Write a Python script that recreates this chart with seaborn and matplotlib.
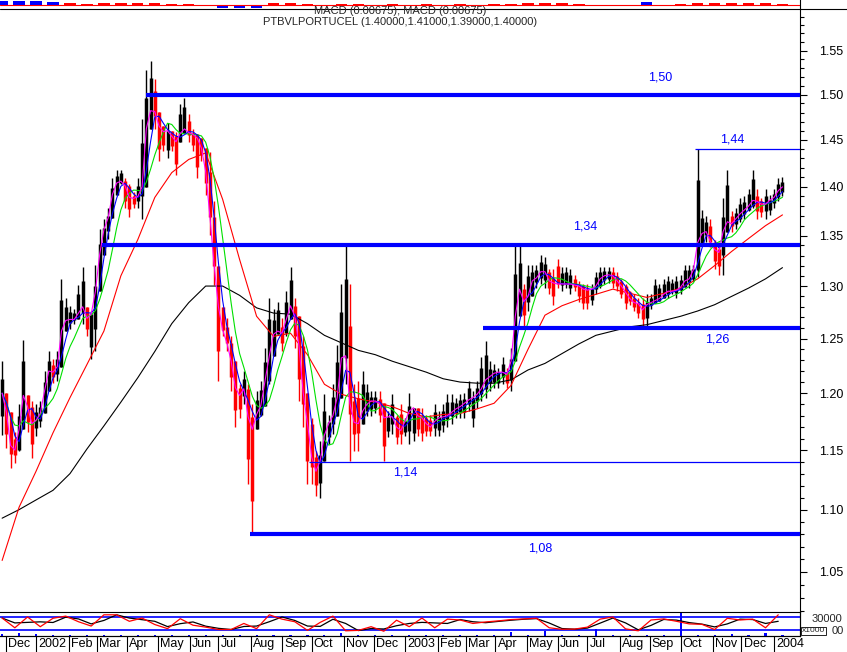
import numpy as np
import pandas as pd
import matplotlib
matplotlib.use("Agg")
import matplotlib.pyplot as plt
import matplotlib.ticker as mticker
import matplotlib.transforms as mtrans
from matplotlib.lines import Line2D
import seaborn as sns

# ---------------------------------------------------------------- data
# one bar every 3 trading days, starting 2001-11-28
close = [
    1.200, 1.183, 1.154, 1.150, 1.168, 1.198, 1.188, 1.173, 1.176, 1.182,
    1.202, 1.220, 1.219, 1.224, 1.257, 1.267, 1.268, 1.268, 1.274, 1.280,
    1.269, 1.273, 1.295, 1.331, 1.356, 1.368, 1.392, 1.404, 1.406, 1.401,
    1.389, 1.388, 1.390, 1.400, 1.462, 1.482, 1.481, 1.465, 1.459, 1.460,
    1.454, 1.448, 1.457, 1.462, 1.458, 1.456, 1.452, 1.441, 1.416, 1.369,
    1.320, 1.280, 1.258, 1.246, 1.229, 1.205, 1.198, 1.204, 1.179, 1.168,
    1.181, 1.189, 1.211, 1.234, 1.254, 1.257, 1.255, 1.268, 1.281, 1.271,
    1.243, 1.200, 1.173, 1.144, 1.132, 1.141, 1.163, 1.173, 1.180, 1.196,
    1.232, 1.234, 1.191, 1.174, 1.173, 1.184, 1.190, 1.193, 1.193, 1.191,
    1.178, 1.179, 1.179, 1.170, 1.167, 1.175, 1.184, 1.187, 1.180, 1.178,
    1.173, 1.170, 1.175, 1.178, 1.179, 1.180, 1.183, 1.186, 1.188, 1.191,
    1.194, 1.196, 1.199, 1.204, 1.212, 1.215, 1.218, 1.219, 1.219, 1.217,
    1.229, 1.271, 1.297, 1.285, 1.290, 1.305, 1.308, 1.314, 1.314, 1.305,
    1.303, 1.302, 1.302, 1.302, 1.302, 1.301, 1.300, 1.297, 1.296, 1.297,
    1.300, 1.307, 1.310, 1.311, 1.310, 1.305, 1.300, 1.294, 1.288, 1.284,
    1.283, 1.277, 1.282, 1.284, 1.286, 1.288, 1.292, 1.295, 1.295, 1.296,
    1.299, 1.305, 1.307, 1.316, 1.343, 1.352, 1.354, 1.344, 1.336, 1.333,
    1.354, 1.364, 1.362, 1.367, 1.372, 1.376, 1.380, 1.386, 1.385, 1.382,
    1.382, 1.386, 1.389, 1.396, 1.400,
]
high = [
    1.229, 1.195, 1.172, 1.166, 1.190, 1.249, 1.196, 1.193, 1.190, 1.193,
    1.220, 1.238, 1.231, 1.238, 1.307, 1.288, 1.281, 1.278, 1.301, 1.319,
    1.276, 1.276, 1.321, 1.357, 1.367, 1.378, 1.409, 1.418, 1.418, 1.409,
    1.403, 1.395, 1.409, 1.473, 1.528, 1.538, 1.518, 1.474, 1.462, 1.468,
    1.456, 1.459, 1.489, 1.496, 1.478, 1.462, 1.456, 1.448, 1.437, 1.437,
    1.385, 1.320, 1.278, 1.269, 1.252, 1.220, 1.208, 1.220, 1.208, 1.190,
    1.202, 1.211, 1.241, 1.288, 1.278, 1.285, 1.269, 1.295, 1.319, 1.288,
    1.269, 1.252, 1.193, 1.178, 1.149, 1.158, 1.199, 1.181, 1.208, 1.244,
    1.302, 1.340, 1.302, 1.208, 1.211, 1.220, 1.208, 1.202, 1.202, 1.202,
    1.190, 1.184, 1.199, 1.181, 1.190, 1.178, 1.200, 1.187, 1.184, 1.187,
    1.181, 1.181, 1.190, 1.184, 1.190, 1.199, 1.199, 1.196, 1.199, 1.200,
    1.211, 1.202, 1.211, 1.233, 1.248, 1.229, 1.226, 1.223, 1.233, 1.223,
    1.241, 1.340, 1.340, 1.302, 1.321, 1.321, 1.321, 1.331, 1.329, 1.317,
    1.317, 1.327, 1.319, 1.319, 1.317, 1.311, 1.305, 1.302, 1.302, 1.302,
    1.314, 1.319, 1.319, 1.319, 1.319, 1.314, 1.307, 1.302, 1.295, 1.292,
    1.288, 1.288, 1.292, 1.292, 1.307, 1.302, 1.307, 1.310, 1.307, 1.310,
    1.311, 1.321, 1.321, 1.321, 1.440, 1.376, 1.370, 1.367, 1.346, 1.344,
    1.388, 1.418, 1.375, 1.378, 1.388, 1.390, 1.398, 1.418, 1.398, 1.388,
    1.398, 1.392, 1.398, 1.409, 1.410,
]
low = [
    1.163, 1.152, 1.135, 1.139, 1.149, 1.184, 1.166, 1.143, 1.162, 1.170,
    1.184, 1.209, 1.209, 1.211, 1.245, 1.259, 1.259, 1.264, 1.269, 1.264,
    1.252, 1.231, 1.238, 1.321, 1.334, 1.347, 1.378, 1.398, 1.403, 1.378,
    1.369, 1.378, 1.378, 1.367, 1.456, 1.474, 1.462, 1.427, 1.438, 1.430,
    1.438, 1.413, 1.452, 1.459, 1.448, 1.438, 1.409, 1.427, 1.392, 1.351,
    1.301, 1.211, 1.252, 1.238, 1.202, 1.170, 1.178, 1.190, 1.121, 1.080,
    1.170, 1.180, 1.190, 1.208, 1.238, 1.254, 1.238, 1.252, 1.276, 1.241,
    1.193, 1.170, 1.121, 1.121, 1.111, 1.110, 1.155, 1.155, 1.164, 1.184,
    1.208, 1.208, 1.141, 1.149, 1.149, 1.184, 1.180, 1.180, 1.182, 1.174,
    1.141, 1.161, 1.164, 1.155, 1.155, 1.162, 1.155, 1.158, 1.162, 1.158,
    1.162, 1.162, 1.162, 1.162, 1.166, 1.170, 1.173, 1.178, 1.178, 1.178,
    1.184, 1.170, 1.187, 1.193, 1.196, 1.202, 1.205, 1.205, 1.208, 1.205,
    1.202, 1.248, 1.276, 1.262, 1.276, 1.298, 1.298, 1.302, 1.298, 1.292,
    1.282, 1.298, 1.295, 1.298, 1.292, 1.295, 1.285, 1.278, 1.278, 1.282,
    1.292, 1.298, 1.302, 1.303, 1.298, 1.295, 1.288, 1.278, 1.282, 1.276,
    1.269, 1.262, 1.262, 1.278, 1.285, 1.288, 1.288, 1.288, 1.292, 1.288,
    1.292, 1.302, 1.298, 1.305, 1.309, 1.344, 1.344, 1.338, 1.317, 1.311,
    1.311, 1.354, 1.354, 1.357, 1.364, 1.367, 1.375, 1.378, 1.367, 1.369,
    1.367, 1.371, 1.378, 1.385, 1.390,
]
# slow averages, read every 4th bar
red_ma = [
    1.059, 1.102, 1.132, 1.165, 1.196, 1.226, 1.257, 1.310, 1.346, 1.389,
    1.415, 1.429, 1.436, 1.387, 1.326, 1.271, 1.252, 1.255, 1.235, 1.208,
    1.199, 1.195, 1.192, 1.188, 1.182, 1.179, 1.181, 1.182, 1.186, 1.191,
    1.207, 1.240, 1.272, 1.281, 1.287, 1.292, 1.297, 1.293, 1.289, 1.293,
    1.298, 1.307, 1.320, 1.334, 1.347, 1.360, 1.371,
]
black_ma = [
    1.093, 1.100, 1.108, 1.116, 1.130, 1.151, 1.171, 1.192, 1.214, 1.238,
    1.264, 1.284, 1.300, 1.300, 1.291, 1.279, 1.274, 1.273, 1.264, 1.253,
    1.246, 1.239, 1.235, 1.229, 1.224, 1.219, 1.213, 1.210, 1.209, 1.209,
    1.212, 1.221, 1.227, 1.236, 1.245, 1.253, 1.257, 1.261, 1.263, 1.267,
    1.271, 1.276, 1.282, 1.290, 1.298, 1.307, 1.318,
]
# lower oscillator, every 3rd bar
osc = [
    75, 30, 80, 35, 74, 84, 58, 38, 90, 90, 60, 75, 45, 26, 72, 42, 33, 22,
    22, 50, 26, 90, 70, 58, 18, 55, 84, 16, 18, 35, 14, 65, 35, 75, 30, 70,
    66, 50, 57, 62, 68, 71, 74, 30, 23, 24, 33, 70, 80, 25, 16, 66, 71, 60,
    48, 46, 22, 74, 66, 70, 30, 90,
]
# MACD histogram and volume, every 4th bar
macd_hist = [
    3, 3, 3, 2.5, 1.5, 0.5, 1.5, 1.5, 1, 1.5, 0.3, 0.2, 0, -3, -3, -3,
    1, 1, 0.3, -0.2, 0.2, 0.2, 0, 0.2, 0, 0.2, 0, 0.2, 0, 0.2, 0.3, 1.5,
    1.5, 1, 0.2, 0, 0, 0, 2, 0, 0.3, 1.5, 1.5, 1.5, 1.2, 1, 0.2,
]
volume = [
    2, 3, 2, 1, 1, 1, 1, 1, 1, 1, 1, 1, 1, 1, 1, 1, 1, 1, 1, 1, 3, 1, 1, 1,
    1, 1, 1, 1, 1, 1, 4, 1, 5, 1, 1, 7, 1, 1, 1, 1, 30, 1, 1, 2, 1, 3, 1,
]
levels = [1.50, 1.44, 1.34, 1.26, 1.14, 1.08]
level_start = ["2002-04-19", "2003-10-15", "2002-03-07",
               "2003-03-19", "2002-09-27", "2002-07-31"]
month_labels = ["Dec", "2002", "Feb", "Mar", "Apr", "May", "Jun", "Jul", "Aug",
                "Sep", "Oct", "Nov", "Dec", "2003", "Feb", "Mar", "Apr", "May",
                "Jun", "Jul", "Aug", "Sep", "Oct", "Nov", "Dec", "2004"]
price_ticks = [1.05, 1.10, 1.15, 1.20, 1.25, 1.30, 1.35, 1.40, 1.45, 1.50, 1.55]
title_macd = "MACD (0.00675), MACD (0.00675)"
title_price = "PTBVLPORTUCEL (1.40000,1.41000,1.39000,1.40000)"

# ---------------------------------------------------------------- layout / style
W, H = 847, 652
BLUE, RED, GREEN, MAGENTA = "#0000ff", "#ff0000", "#00e000", "#ff00ff"
XLIM = (3.5, 569.4)
level_lw = [3.0, 0.9, 3.0, 3.0, 0.9, 3.0]
label_x = [0.825, 0.915, 0.731, 0.896, 0.506, 0.675]
label_dy = [12, 7, 14, -8.5, -7.5, -10]

sns.set_style("white")
plt.rcParams["font.family"] = ["Liberation Sans", "DejaVu Sans"]

close = np.array(close)
high = np.array(high)
low = np.array(low)
all_days = pd.bdate_range("2001-11-21", "2004-03-01")
bar_dates = pd.bdate_range("2001-11-28", periods=len(close), freq="3B")
x = all_days.get_indexer(bar_dates).astype(float)

df = pd.DataFrame({"x": x, "close": close})
df["ma_fast"] = df["close"].rolling(3, min_periods=1).mean()
df["ma_mid"] = df["close"].rolling(6, min_periods=1).mean()

fig = plt.figure(figsize=(W / 100, H / 100), dpi=100)


def px_box(x0, y0, x1, y1):
    return [x0 / W, 1 - y1 / H, (x1 - x0) / W, (y1 - y0) / H]


ax_macd = fig.add_axes(px_box(0, 0, 800, 9))
ax = fig.add_axes(px_box(0, 9, 800, 612))
ax_osc = fig.add_axes(px_box(0, 612, 800, 636))

# ---------------------------------------------------------------- price bars
open_ = np.r_[close[0], close[:-1]]
colors = np.where(close >= open_, "black", RED)
top = np.maximum(high, np.maximum(open_, close))
bot = np.minimum(low, np.minimum(open_, close))
rng = top - bot
body_lo = np.minimum(np.minimum(open_, close), bot + 0.25 * rng)
body_hi = np.maximum(np.maximum(open_, close), top - 0.25 * rng)
ax.vlines(x, bot, top, colors=colors, lw=1.0, zorder=2)
ax.vlines(x, body_lo, body_hi, colors=colors, lw=2.5, zorder=2)

sns.lineplot(x=x[::4], y=black_ma, ax=ax, color="black", lw=0.8, zorder=3)
sns.lineplot(x=x[::4], y=red_ma, ax=ax, color=RED, lw=0.8, zorder=3)
sns.lineplot(data=df, x="x", y="ma_mid", ax=ax, color=GREEN, lw=0.8, zorder=4)
sns.lineplot(data=df, x="x", y="ma_fast", ax=ax, color=BLUE, lw=0.8, zorder=4)
sns.lineplot(data=df, x="x", y="close", ax=ax, color=MAGENTA, lw=0.8, zorder=5)

# support / resistance lines
blend = mtrans.blended_transform_factory(ax.transAxes, ax.transData)
for lev, start, lw, lx, dy in zip(levels, level_start, level_lw, label_x, label_dy):
    x0 = all_days.searchsorted(pd.Timestamp(start))
    ax.hlines(lev, x0, XLIM[1], colors=BLUE, lw=lw, zorder=6)
    ax.annotate(f"{lev:.2f}".replace(".", ","), xy=(lx, lev), xycoords=blend,
                xytext=(0, dy), textcoords="offset points", ha="center",
                va="center", color=BLUE, fontsize=9)

ax.set_yscale("log")
ax.set_ylim(1.019, 1.599)
ax.set_xlim(*XLIM)
ax.set_xticks([])
ax.set_xlabel("")
ax.set_ylabel("")
ax.yaxis.tick_right()
ax.yaxis.set_major_locator(mticker.FixedLocator(price_ticks))
ax.yaxis.set_major_formatter(mticker.FixedFormatter([f"{t:.2f}" for t in price_ticks]))
ax.yaxis.set_minor_locator(mticker.FixedLocator(np.arange(1.02, 1.60, 0.01)))
ax.yaxis.set_minor_formatter(mticker.NullFormatter())
ax.tick_params(axis="y", which="major", direction="out", length=5, width=0.8,
               pad=9, labelsize=9, colors="black")
ax.tick_params(axis="y", which="minor", direction="out", length=3, width=0.8,
               colors="black")
for side in ["left", "top"]:
    ax.spines[side].set_visible(False)
for side in ["right", "bottom"]:
    ax.spines[side].set_color("black")
    ax.spines[side].set_linewidth(0.8)

# ---------------------------------------------------------------- MACD strip
mx = x[::4]
mcol = np.where(np.abs(macd_hist) >= 2, BLUE, RED)
ax_macd.bar(mx, macd_hist, width=8, color=mcol, linewidth=0)
ax_macd.axhline(0, color=RED, lw=0.8)
ax_macd.set_xlim(*XLIM)
ax_macd.set_ylim(-4, 4)
ax_macd.set_xticks([])
ax_macd.set_yticks([])
for side in ["left", "top", "bottom"]:
    ax_macd.spines[side].set_visible(False)
ax_macd.spines["right"].set_color("black")
ax_macd.spines["right"].set_linewidth(0.8)

# ---------------------------------------------------------------- oscillator
ox = x[::3]
osc_s = pd.Series(osc, dtype=float)
vol_ax = ax_osc.twinx()
vol_ax.bar(x[::4], volume, width=1.5, color=BLUE, linewidth=0)
vol_ax.set_ylim(0, 25)
vol_ax.set_yticks([])
vol_ax.set_zorder(ax_osc.get_zorder() - 1)
ax_osc.patch.set_visible(False)
ax_osc.axhline(80, color=BLUE, lw=1.2)
ax_osc.axhline(20, color=BLUE, lw=1.2)
sns.lineplot(x=ox, y=osc_s.rolling(2, min_periods=1).mean().values, ax=ax_osc,
             color="black", lw=0.9)
sns.lineplot(x=ox, y=osc_s.values, ax=ax_osc, color=RED, lw=0.9)
ax_osc.set_ylim(-8, 103)
ax_osc.set_xlim(*XLIM)
vol_ax.set_xlim(*XLIM)
ax_osc.set_yticks([])
ax_osc.set_xlabel("")
ax_osc.set_ylabel("")
for a in [ax_osc, vol_ax]:
    for side in ["left", "top"]:
        a.spines[side].set_visible(False)
    a.spines["right"].set_color("black")
    a.spines["bottom"].set_color("black")
    a.spines["right"].set_linewidth(0.8)
    a.spines["bottom"].set_linewidth(0.8)

month_starts = pd.date_range("2001-12-01", periods=len(month_labels), freq="MS")
month_pos = all_days.searchsorted(month_starts)
ax_osc.set_xticks(month_pos)
ax_osc.set_xticklabels([])
ax_osc.tick_params(axis="x", direction="out", length=12, width=0.8,
                   colors="black", bottom=True)
xblend = mtrans.blended_transform_factory(ax_osc.transData, ax_osc.transAxes)
for pos, lab in zip(month_pos, month_labels):
    ax_osc.annotate(lab, xy=(pos, 0), xycoords=xblend, xytext=(1.5, -6),
                    textcoords="offset points", ha="left", va="center",
                    fontsize=9, color="black", annotation_clip=False)

# ---------------------------------------------------------------- texts
fig.text(400 / W, 1 - 11 / H, title_macd, ha="center", va="center", fontsize=8)
fig.text(400 / W, 1 - 22 / H, title_price, ha="center", va="center", fontsize=8)
fig.add_artist(Line2D([0, 1], [1 - 9 / H] * 2, color="black", lw=0.8))
fig.text(812 / W, 1 - 619 / H, "30000", ha="left", va="center", fontsize=8)
fig.text(802 / W, 1 - 631 / H, "x1000", ha="left", va="center", fontsize=6,
         bbox=dict(facecolor="white", edgecolor="black", pad=0.6, lw=0.6))
fig.text(832 / W, 1 - 631 / H, "00", ha="left", va="center", fontsize=8)

fig.savefig("out.png", dpi=100)
